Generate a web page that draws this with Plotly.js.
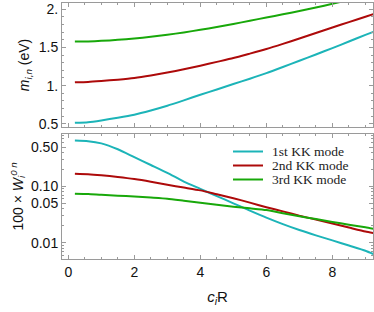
<!DOCTYPE html>
<html>
<head>
<meta charset="utf-8">
<script src="https://cdn.plot.ly/plotly-3.0.1.min.js"></script>
<style>html,body{margin:0;padding:0;background:#fff;}#chart{width:374px;height:312px;}</style>
</head>
<body>
<div id="chart"></div>
<script>
// shared x grid (c_i R)
var cR = [0.2, 0.6, 1, 1.5, 2, 2.5, 3, 3.5, 4, 4.5, 5, 5.5, 6, 6.5, 7, 7.5, 8, 8.5, 9, 9.24];

// top panel: masses m_{i,n} (eV)
var mass1 = [0.513, 0.522, 0.545, 0.58, 0.62, 0.675, 0.737, 0.807, 0.88, 0.95, 1.02, 1.09, 1.163, 1.243, 1.325, 1.407, 1.49, 1.576, 1.663, 1.703];
var mass2 = [1.043, 1.048, 1.06, 1.078, 1.10, 1.132, 1.17, 1.213, 1.26, 1.31, 1.36, 1.418, 1.478, 1.545, 1.615, 1.688, 1.76, 1.83, 1.90, 1.934];
var mass3 = [1.575, 1.578, 1.585, 1.598, 1.615, 1.638, 1.665, 1.695, 1.73, 1.765, 1.805, 1.848, 1.89, 1.932, 1.975, 2.02, 2.07, 2.12, 2.17, 2.19];

// bottom panel: 100 x W_i^{0n}
var w1 = [0.655, 0.638, 0.582, 0.457, 0.331, 0.240, 0.174, 0.122, 0.0906, 0.0673, 0.0501, 0.0372, 0.0279, 0.0214, 0.0168, 0.0135, 0.0110, 0.0089, 0.0072, 0.0063];
var w2 = [0.168, 0.165, 0.158, 0.147, 0.135, 0.121, 0.107, 0.0955, 0.0851, 0.0725, 0.0617, 0.0515, 0.0427, 0.0360, 0.0302, 0.0258, 0.0219, 0.0186, 0.0158, 0.0148];
var w3 = [0.0741, 0.0731, 0.0708, 0.0685, 0.0661, 0.0633, 0.0603, 0.0557, 0.0513, 0.0473, 0.0437, 0.0408, 0.0380, 0.0335, 0.0295, 0.0263, 0.0234, 0.0209, 0.0188, 0.0177];

var names = ["1st KK mode", "2nd KK mode", "3rd KK mode"];
var colors = ["#1cb4b8", "#ad0a0a", "#18a80a"];

var traces = [
  {x: cR, y: mass1, xaxis: 'x', yaxis: 'y', mode: 'lines', line: {color: colors[0], width: 2, shape: 'spline', smoothing: 0.6}, showlegend: false},
  {x: cR, y: mass2, xaxis: 'x', yaxis: 'y', mode: 'lines', line: {color: colors[1], width: 2, shape: 'spline', smoothing: 0.6}, showlegend: false},
  {x: cR, y: mass3, xaxis: 'x', yaxis: 'y', mode: 'lines', line: {color: colors[2], width: 2, shape: 'spline', smoothing: 0.6}, showlegend: false},
  {x: cR, y: w1, xaxis: 'x2', yaxis: 'y2', mode: 'lines', name: names[0], line: {color: colors[0], width: 2, shape: 'spline', smoothing: 0.6}, showlegend: false},
  {x: cR, y: w2, xaxis: 'x2', yaxis: 'y2', mode: 'lines', name: names[1], line: {color: colors[1], width: 2, shape: 'spline', smoothing: 0.6}, showlegend: false},
  {x: cR, y: w3, xaxis: 'x2', yaxis: 'y2', mode: 'lines', name: names[2], line: {color: colors[2], width: 2, shape: 'spline', smoothing: 0.6}, showlegend: false}
];

// legend drawn as annotations + short line samples (tight row spacing as in the reference)
var legendRowsPx = [151.5, 165.5, 179.5];
var shapes = [], annotations = [];
function px2x(p) { return (p - 62) / 311; }
function px2y(p) { return (259 - p) / 256; }
for (var i = 0; i < 3; i++) {
  shapes.push({type: 'line', xref: 'paper', yref: 'paper',
    x0: px2x(233), x1: px2x(263), y0: px2y(legendRowsPx[i]), y1: px2y(legendRowsPx[i]),
    line: {color: colors[i], width: 2}});
  annotations.push({xref: 'paper', yref: 'paper', x: px2x(271), y: px2y(legendRowsPx[i]),
    xanchor: 'left', yanchor: 'middle', showarrow: false, text: names[i], borderpad: 0,
    font: {family: 'Liberation Serif, Times New Roman, serif', size: 13.5, color: '#222'}});
}

var frame = {
  showline: true, mirror: 'allticks', linecolor: '#9a9a9a', linewidth: 1,
  ticks: 'inside', ticklen: 4, tickcolor: '#9a9a9a', showgrid: false, zeroline: false
};
var tickFont = {family: 'Liberation Sans, Arial, sans-serif', size: 14, color: '#111'};
var titleFont = {family: 'Liberation Sans, Arial, sans-serif', size: 14, color: '#111'};

var layout = {
  width: 374, height: 312,
  margin: {l: 62, r: 1, t: 3, b: 53},
  paper_bgcolor: '#fff', plot_bgcolor: '#fff',
  showlegend: false,
  shapes: shapes,
  annotations: annotations,
  xaxis: Object.assign({}, frame, {
    domain: [0, 1], anchor: 'y', range: [-0.19, 9.23],
    tickvals: [0, 2, 4, 6, 8], showticklabels: false,
    minor: {ticks: 'inside', ticklen: 2, dtick: 0.5, tick0: 0, tickcolor: '#9a9a9a'}
  }),
  yaxis: Object.assign({}, frame, {
    domain: [0.516, 1], anchor: 'x', range: [0.46, 2.08],
    tickvals: [0.5, 1, 1.5, 2], ticktext: ['0.5', '1.', '1.5', '2.'],
    tickfont: tickFont,
    minor: {ticks: 'inside', ticklen: 2, dtick: 0.1, tick0: 0, tickcolor: '#9a9a9a'},
    title: {text: '<i>m</i><sub><i>i,n</i></sub> (eV)', font: titleFont, standoff: 5}
  }),
  xaxis2: Object.assign({}, frame, {
    domain: [0, 1], anchor: 'y2', range: [-0.19, 9.23],
    tickvals: [0, 2, 4, 6, 8], tickfont: tickFont,
    minor: {ticks: 'inside', ticklen: 2, dtick: 0.5, tick0: 0, tickcolor: '#9a9a9a'},
    title: {text: '<i>c</i><sub><i>i</i></sub>R', font: {family: 'Liberation Sans, Arial, sans-serif', size: 15, color: '#111'}, standoff: 12}
  }),
  yaxis2: Object.assign({}, frame, {
    domain: [0, 0.489], anchor: 'x2', type: 'log', range: [-2.29, -0.065],
    tickvals: [0.01, 0.05, 0.1, 0.5], ticktext: ['0.01', '0.05', '0.10', '0.50'],
    tickfont: tickFont,
    minor: {ticks: 'inside', ticklen: 2, tickcolor: '#9a9a9a', tickmode: 'array',
      tickvals: [0.006, 0.007, 0.008, 0.009, 0.02, 0.03, 0.04, 0.06, 0.07, 0.08, 0.09, 0.2, 0.3, 0.4, 0.6, 0.7, 0.8]},
    title: {text: '100 × <i>W</i><sub><i>i</i></sub><sup><i>0 n</i></sup>', font: titleFont, standoff: 4}
  })
};

Plotly.newPlot('chart', traces, layout, {staticPlot: true, displayModeBar: false});
</script>
</body>
</html>
